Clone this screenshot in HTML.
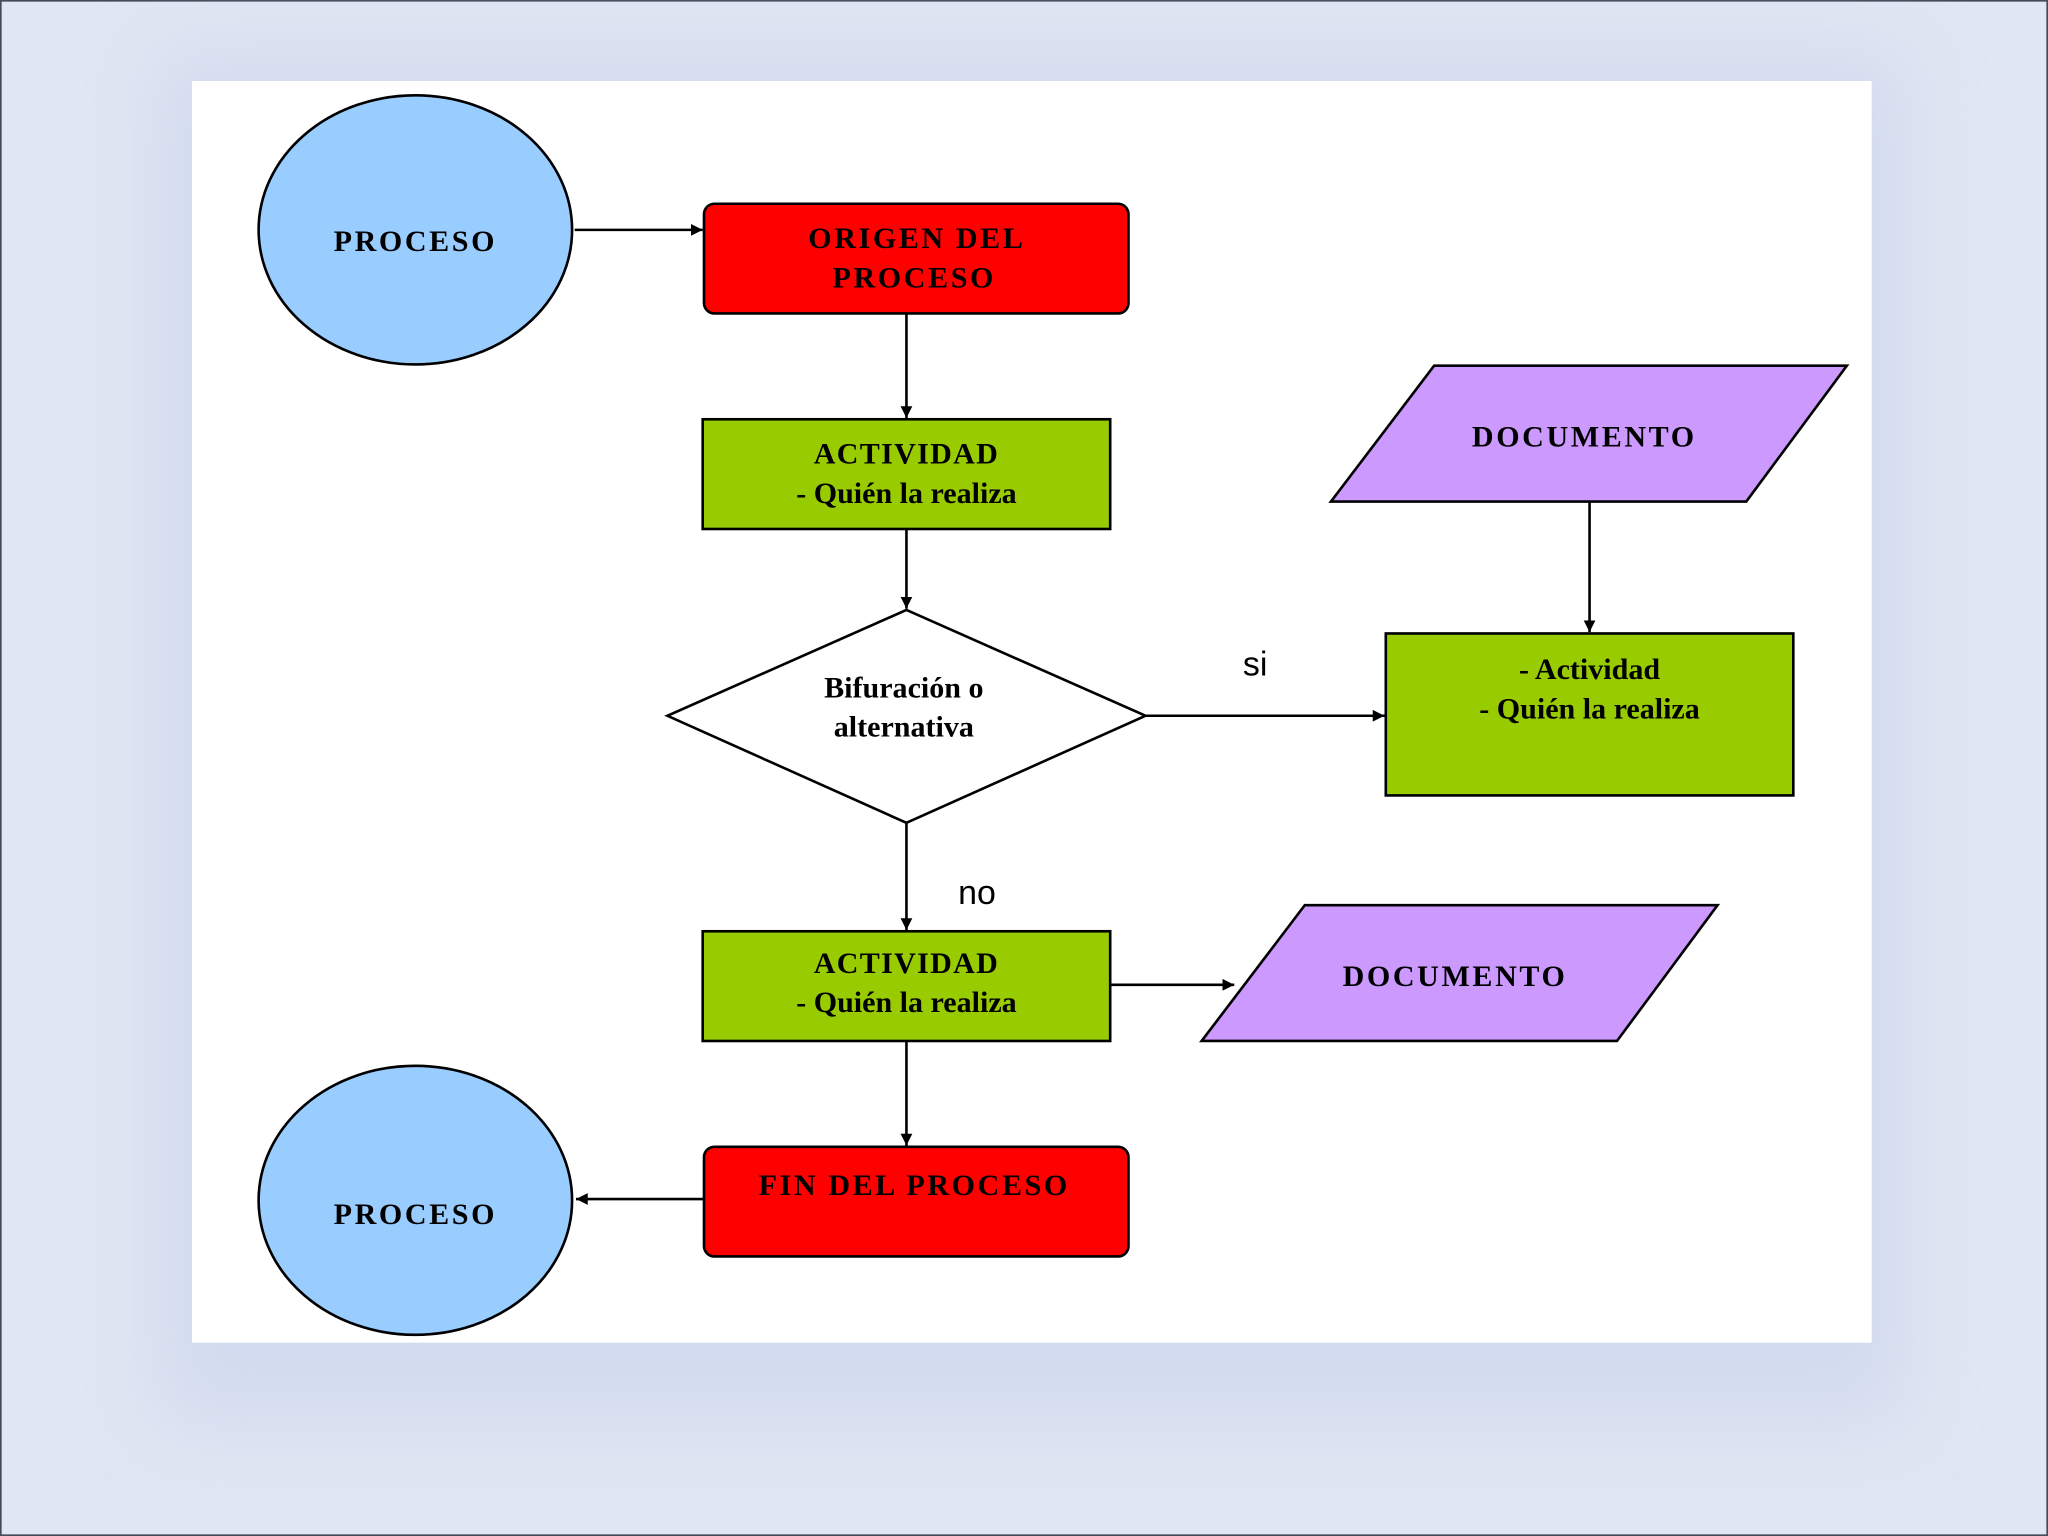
<!DOCTYPE html>
<html><head><style>html,body{margin:0;padding:0;background:#dfe5f3}svg{display:block}</style></head>
<body>
<svg xmlns="http://www.w3.org/2000/svg" width="2048" height="1536" viewBox="0 0 1568 1176">
<defs>
<marker id="a" viewBox="0 0 10 10" refX="10" refY="5" markerWidth="9" markerHeight="9" markerUnits="userSpaceOnUse" orient="auto"><path d="M0,0 L10,5 L0,10z" fill="#000"/></marker>
<filter id="sh" x="-20%" y="-20%" width="140%" height="140%"><feGaussianBlur stdDeviation="30"/></filter>
</defs>
<rect x="0.5" y="0.5" width="1567" height="1175" fill="#e0e6f3" stroke="#444a5a" stroke-width="1.5"/>
<rect x="120" y="40" width="1340" height="1050" fill="#c9d3ec" opacity="0.6" filter="url(#sh)"/>
<rect x="147" y="62" width="1286" height="966" fill="#fff"/>
<g stroke="#000" stroke-width="2" font-family="Liberation Serif, serif" font-weight="bold" font-size="23" text-anchor="middle">
<ellipse cx="318" cy="176" rx="120" ry="103" fill="#99ccff"/>
<ellipse cx="318" cy="919" rx="120" ry="103" fill="#99ccff"/>
<rect x="539" y="156" width="325" height="84" rx="8" fill="#ff0000"/>
<rect x="539" y="878" width="325" height="84" rx="8" fill="#ff0000"/>
<rect x="538" y="321" width="312" height="84" fill="#99cc00"/>
<rect x="538" y="713" width="312" height="84" fill="#99cc00"/>
<rect x="1061" y="485" width="312" height="124" fill="#99cc00"/>
<polygon points="694,467 877,548 694,630 511,548" fill="#fff"/>
<polygon points="1098,280 1414,280 1337,384 1019,384" fill="#cc99ff"/>
<polygon points="999,693 1315,693 1238,797 920,797" fill="#cc99ff"/>
<g fill="none" marker-end="url(#a)">
<line x1="440" y1="176" x2="538" y2="176"/>
<line x1="694" y1="240" x2="694" y2="320"/>
<line x1="694" y1="405" x2="694" y2="466"/>
<line x1="877" y1="548" x2="1060" y2="548"/>
<line x1="1217" y1="384" x2="1217" y2="484"/>
<line x1="694" y1="630" x2="694" y2="712"/>
<line x1="850" y1="754" x2="945" y2="754"/>
<line x1="694" y1="797" x2="694" y2="877"/>
<line x1="539" y1="918" x2="441" y2="918"/>
</g>
<g stroke="none" fill="#000" letter-spacing="2">
<text x="318" y="192">PROCESO</text>
<text x="318" y="937">PROCESO</text>
<text x="702" y="190">ORIGEN DEL</text>
<text x="700" y="220">PROCESO</text>
<text x="700" y="915">FIN DEL PROCESO</text>
<text x="1213" y="342">DOCUMENTO</text>
<text x="1114" y="755">DOCUMENTO</text>
</g>
<g stroke="none" fill="#000">
<text x="694" y="355" letter-spacing="1">ACTIVIDAD</text>
<text x="694" y="385">-  Quién la realiza</text>
<text x="694" y="745" letter-spacing="1">ACTIVIDAD</text>
<text x="694" y="775">-  Quién la realiza</text>
<text x="1217" y="520">- Actividad</text>
<text x="1217" y="550">-  Quién la realiza</text>
<text x="692" y="534">Bifuración o</text>
<text x="692" y="564">alternativa</text>
</g>
<g stroke="none" fill="#000" font-family="Liberation Sans, sans-serif" font-weight="normal" font-size="26">
<text x="961" y="517">si</text>
<text x="748" y="692">no</text>
</g>
</g>
</svg>
</body></html>
